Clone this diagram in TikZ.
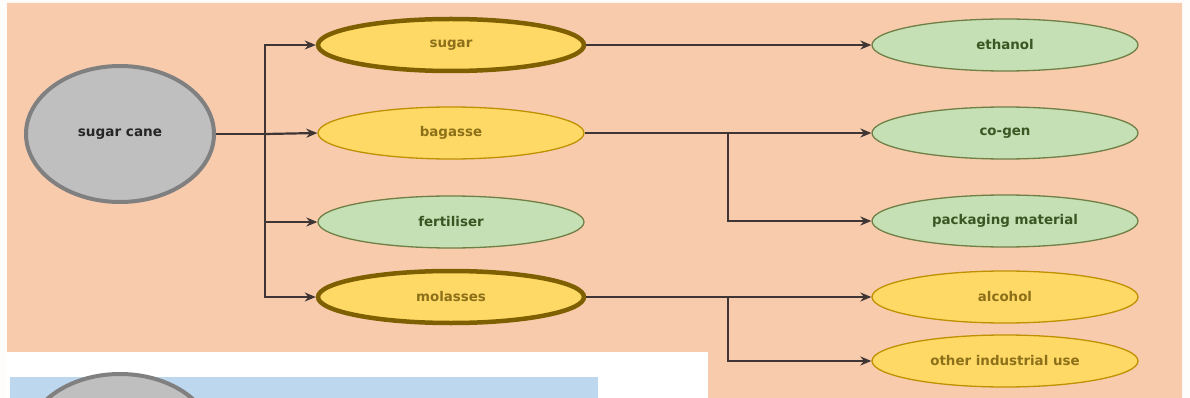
\documentclass[tikz,border=0pt]{standalone}
\usepackage{fontspec}
\setmainfont{DejaVu Sans}
\usetikzlibrary{shapes.geometric,arrows.meta}
\definecolor{peach}{HTML}{F8CBAD}
\definecolor{paleblue}{HTML}{BDD7EE}
\definecolor{canefill}{HTML}{BFBFBF}
\definecolor{caneline}{HTML}{808080}
\definecolor{goldfill}{HTML}{FFD966}
\definecolor{golddark}{HTML}{7F6000}
\definecolor{goldline}{HTML}{BF9000}
\definecolor{greenfill}{HTML}{C5E0B4}
\definecolor{greenline}{HTML}{6F7F45}
\definecolor{greentext}{HTML}{385723}
\definecolor{wire}{HTML}{3F3535}
\tikzset{
  product/.style={ellipse, minimum width=266pt, minimum height=52pt, inner sep=0pt,
    font=\fontsize{13.4}{15}\selectfont\bfseries},
  goldmain/.style={product, fill=goldfill, draw=golddark, line width=4.5pt, text=golddark!90},
  goldsub/.style={product, fill=goldfill, draw=goldline, line width=1.3pt, text=golddark!90},
  greensub/.style={product, fill=greenfill, draw=greenline, line width=1.3pt, text=greentext},
  source/.style={ellipse, minimum width=188pt, minimum height=136pt, inner sep=0pt,
    fill=canefill, draw=caneline, line width=4pt, text=black!85,
    font=\fontsize{13.6}{15}\selectfont\bfseries},
  flow/.style={draw=wire, line width=2.2pt, -{Stealth[length=11pt,width=9pt]}},
  trunk/.style={draw=wire, line width=2.2pt}
}
\begin{document}
\begin{tikzpicture}[x=1pt,y=-1pt]
\useasboundingbox (0,0) rectangle (1190,398);
\begin{scope}
\clip (0,0) rectangle (1190,398);
% page background and panels
\fill[white!96!peach] (0,0) rectangle (1190,398);
\fill[peach] (7,3) -- (1182,3) -- (1182,398) -- (708,398) -- (708,352) -- (7,352) -- cycle;
\fill[white] (7,352) rectangle (708,398);
\fill[paleblue] (10,377) rectangle (598,398);
\node[source] (cane2) at (120,442) {};

% nodes
\node[source] (cane) at (120,134) {sugar cane};
\node[goldmain] (sugar) at (451,45) {sugar};
\node[goldsub] (bagasse) at (451,133) {bagasse};
\node[greensub] (fert) at (451,222) {fertiliser};
\node[goldmain] (mol) at (451,297) {molasses};
\node[greensub] (eth) at (1005,45) {ethanol};
\node[greensub] (cogen) at (1005,133) {co-gen};
\node[greensub] (pack) at (1005,221) {packaging material};
\node[goldsub] (alc) at (1005,297) {alcohol};
\node[goldsub] (other) at (1005,361) {other industrial use};

% junctions
\coordinate (j0) at (265,134);
\coordinate (j1) at (728,133);
\coordinate (j2) at (728,297);

% connectors
\draw[trunk] (cane.east) -- (j0);
\draw[flow] (j0) |- (sugar.west);
\draw[flow] (j0) -- (bagasse.west);
\draw[flow] (j0) |- (fert.west);
\draw[flow] (j0) |- (mol.west);
\draw[flow] (sugar.east) -- (eth.west);
\draw[flow] (bagasse.east) -- (cogen.west);
\draw[flow] (j1) |- (pack.west);
\draw[flow] (mol.east) -- (alc.west);
\draw[flow] (j2) |- (other.west);
\end{scope}
\end{tikzpicture}
\end{document}
